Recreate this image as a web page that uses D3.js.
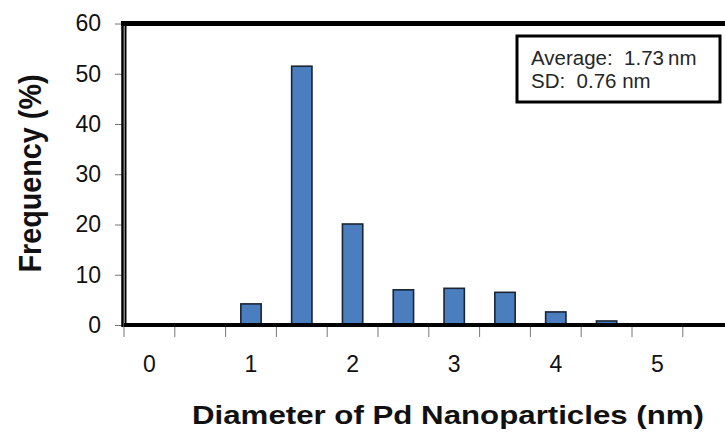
<!DOCTYPE html>
<html>
<head>
<meta charset="utf-8">
<script src="https://cdn.jsdelivr.net/npm/d3@7"></script>
<style>
  html, body { margin: 0; padding: 0; background: #fff; overflow: hidden; }
  svg { display: block; font-family: "Liberation Sans", Arial, sans-serif; }
</style>
</head>
<body>
<svg id="chart" width="725" height="433"></svg>
<script>
// Particle size histogram: diameter bins (nm) and frequency (%)
const diameters = [0, 0.5, 1, 1.5, 2, 2.5, 3, 3.5, 4, 4.5, 5, 5.5];
const frequency = [0, 0, 4.2, 51.5, 20.1, 7.0, 7.3, 6.5, 2.6, 0.8, 0, 0];
const yTicks = [0, 10, 20, 30, 40, 50, 60];
const xLabels = [0, 1, 2, 3, 4, 5];
const statsLines = ["Average:  1.73\u2009nm", "SD:  0.76 nm"];

const svg = d3.select("#chart");

const plot = { left: 124, top: 23.5, bottom: 325, bandW: 50.8 };
plot.right = plot.left + plot.bandW * diameters.length;

const x = d3.scaleBand()
  .domain(diameters)
  .range([plot.left, plot.right])
  .padding(0);

const y = d3.scaleLinear()
  .domain([0, 60])
  .range([plot.bottom, plot.top]);

// Bars
const barW = x.bandwidth() * 0.4;
svg.append("g")
  .selectAll("rect")
  .data(diameters.map((d, i) => ({ d, v: frequency[i] })).filter(o => o.v > 0))
  .join("rect")
  .attr("x", o => x(o.d) + (x.bandwidth() - barW) / 2)
  .attr("y", o => y(o.v))
  .attr("width", barW)
  .attr("height", o => y(0) - y(o.v))
  .attr("fill", "#4a7ebf")
  .attr("stroke", "#1b2433")
  .attr("stroke-width", 1.6);

// Y axis with ticks outside the frame
const yAxis = d3.axisLeft(y).tickValues(yTicks).tickSize(8).tickPadding(14);
const gy = svg.append("g")
  .attr("transform", `translate(${plot.left - 1},0)`)
  .call(yAxis);
gy.select(".domain").remove();
gy.selectAll(".tick line").attr("stroke", "#777").attr("stroke-width", 1);
gy.selectAll(".tick text")
  .attr("font-size", 23)
  .attr("fill", "#111")
  .attr("font-family", "Liberation Sans, Arial, sans-serif");

// X axis: tick marks at bin edges, labels at whole nanometres
const edges = diameters.map(d => x(d)).concat([plot.right]);
svg.append("g")
  .selectAll("line")
  .data(edges)
  .join("line")
  .attr("x1", d => d).attr("x2", d => d)
  .attr("y1", plot.bottom + 2).attr("y2", plot.bottom + 12)
  .attr("stroke", "#777").attr("stroke-width", 1);

svg.append("g")
  .selectAll("text")
  .data(xLabels)
  .join("text")
  .attr("x", d => x(d) + x.bandwidth() / 2)
  .attr("y", 372)
  .attr("text-anchor", "middle")
  .attr("font-size", 23)
  .attr("fill", "#111")
  .text(d => d);

// Baseline at zero
svg.append("line")
  .attr("x1", plot.left).attr("x2", plot.right)
  .attr("y1", y(0)).attr("y2", y(0))
  .attr("stroke", "#000").attr("stroke-width", 4);

// Frame: top border and doubled left border
svg.append("line")
  .attr("x1", plot.left - 3).attr("x2", plot.right)
  .attr("y1", plot.top).attr("y2", plot.top)
  .attr("stroke", "#000").attr("stroke-width", 5);
svg.append("line")
  .attr("x1", plot.left - 1.5).attr("x2", plot.left - 1.5)
  .attr("y1", plot.top).attr("y2", plot.bottom + 2)
  .attr("stroke", "#000").attr("stroke-width", 2.5);
svg.append("line")
  .attr("x1", plot.left + 1.5).attr("x2", plot.left + 1.5)
  .attr("y1", plot.top).attr("y2", plot.bottom + 2)
  .attr("stroke", "#000").attr("stroke-width", 2);

// Statistics box
const box = svg.append("g");
box.append("rect")
  .attr("x", 517).attr("y", 36)
  .attr("width", 203).attr("height", 66)
  .attr("fill", "#fff").attr("stroke", "#000").attr("stroke-width", 3);
box.selectAll("text")
  .data(statsLines)
  .join("text")
  .attr("x", 531)
  .attr("y", (d, i) => 65 + i * 23)
  .attr("font-size", 20.5)
  .attr("fill", "#262626")
  .style("white-space", "pre")
  .text(d => d);

// Axis titles
svg.append("text")
  .attr("x", 448).attr("y", 424)
  .attr("text-anchor", "middle")
  .attr("font-size", 26)
  .attr("font-weight", "bold")
  .attr("fill", "#111")
  .attr("textLength", 512)
  .attr("lengthAdjust", "spacingAndGlyphs")
  .text("Diameter of Pd Nanoparticles (nm)");

svg.append("text")
  .attr("transform", "translate(41,173.5) rotate(-90)")
  .attr("text-anchor", "middle")
  .attr("font-size", 32)
  .attr("font-weight", "bold")
  .attr("fill", "#111")
  .attr("textLength", 198)
  .attr("lengthAdjust", "spacingAndGlyphs")
  .text("Frequency (%)");
</script>
</body>
</html>
